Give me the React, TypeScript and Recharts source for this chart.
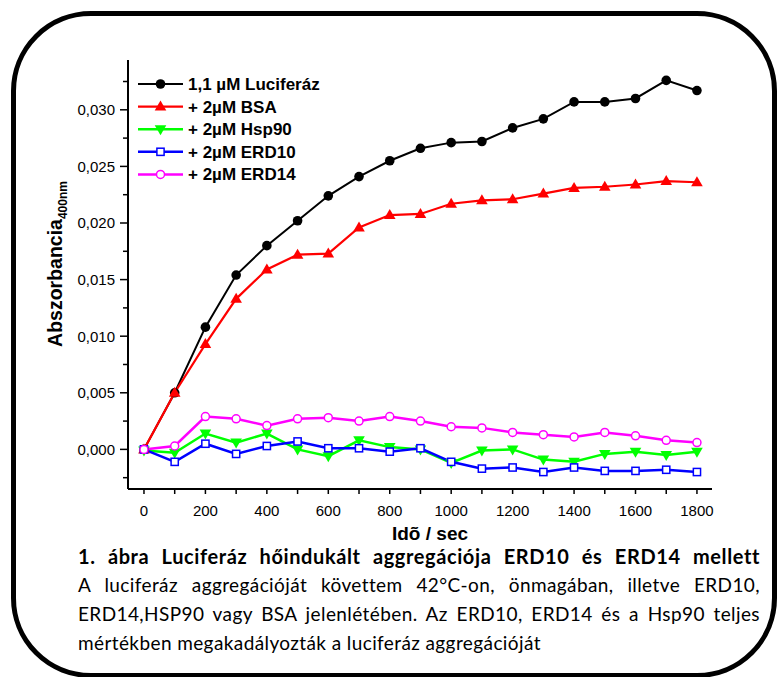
import React from 'react';
import { LineChart, Line, XAxis, YAxis, Legend } from 'recharts';

// time points (sec)
const times = [0, 100, 200, 300, 400, 500, 600, 700, 800, 900, 1000, 1100, 1200, 1300, 1400, 1500, 1600, 1700, 1800];

// absorbance at 400 nm
const luciferase = [0, 0.005, 0.0108, 0.0154, 0.018, 0.0202, 0.0224, 0.0241, 0.0255, 0.0266, 0.0271, 0.0272, 0.0284, 0.0292, 0.0307, 0.0307, 0.031, 0.0326, 0.0317];
const bsa = [0, 0.005, 0.0093, 0.0133, 0.0159, 0.0172, 0.0173, 0.0196, 0.0207, 0.0208, 0.0217, 0.022, 0.0221, 0.0226, 0.0231, 0.0232, 0.0234, 0.0237, 0.0236];
const hsp90 = [-0.0001, -0.0003, 0.0014, 0.0006, 0.0014, 0.0, -0.0006, 0.0008, 0.0002, 0.0, -0.0012, -0.0001, 0.0, -0.0009, -0.0011, -0.0004, -0.0002, -0.0005, -0.0002];
const erd10 = [0, -0.0011, 0.0005, -0.0004, 0.0003, 0.0007, 0.0001, 0.0001, -0.0002, 0.0001, -0.0011, -0.0017, -0.0016, -0.002, -0.0016, -0.0019, -0.0019, -0.0018, -0.002];
const erd14 = [0, 0.0003, 0.0029, 0.0027, 0.0021, 0.0027, 0.0028, 0.0025, 0.0029, 0.0025, 0.002, 0.0019, 0.0015, 0.0013, 0.0011, 0.0015, 0.0012, 0.0008, 0.0006];

const seriesNames = ['1,1 µM Luciferáz', '+ 2µM BSA', '+ 2µM Hsp90', '+ 2µM ERD10', '+ 2µM ERD14'];

const xTicks = [0, 100, 200, 300, 400, 500, 600, 700, 800, 900, 1000, 1100, 1200, 1300, 1400, 1500, 1600, 1700, 1800];
const yTicks = [-0.0025, 0, 0.0025, 0.005, 0.0075, 0.01, 0.0125, 0.015, 0.0175, 0.02, 0.0225, 0.025, 0.0275, 0.03, 0.0325];

const captionTitle = '1. ábra  Luciferáz hőindukált aggregációja ERD10 és ERD14 mellett';
const captionLines = [
  'A luciferáz aggregációját követtem 42°C-on, önmagában, illetve ERD10,',
  'ERD14,HSP90 vagy BSA jelenlétében. Az ERD10, ERD14 és a Hsp90 teljes',
  'mértékben megakadályozták a luciferáz aggregációját',
];

const series = [
  { key: 'luc', color: '#000000', shape: 'circle', width: 2 },
  { key: 'bsa', color: '#ff0000', shape: 'up', width: 2.2 },
  { key: 'hsp', color: '#00ff00', shape: 'down', width: 2.5 },
  { key: 'erd10', color: '#0000ff', shape: 'square', width: 2.5 },
  { key: 'erd14', color: '#ff00ff', shape: 'ring', width: 2.5 },
];

const data = times.map((t, i) => ({
  t,
  luc: luciferase[i],
  bsa: bsa[i],
  hsp: hsp90[i],
  erd10: erd10[i],
  erd14: erd14[i],
}));

const FONT = '"Liberation Sans", Arial, sans-serif';

const Marker = ({ cx, cy, shape, color }) => {
  if (cx == null || cy == null) return null;
  switch (shape) {
    case 'circle':
      return <circle cx={cx} cy={cy} r={4.8} fill={color} />;
    case 'up':
      return <polygon points={`${cx},${cy - 6} ${cx - 5.8},${cy + 4} ${cx + 5.8},${cy + 4}`} fill={color} />;
    case 'down':
      return <polygon points={`${cx},${cy + 6} ${cx - 5.8},${cy - 4} ${cx + 5.8},${cy - 4}`} fill={color} />;
    case 'square':
      return <rect x={cx - 3.6} y={cy - 3.6} width={7.2} height={7.2} fill="#fff" stroke={color} strokeWidth={1.5} />;
    default:
      return <circle cx={cx} cy={cy} r={4} fill="#fff" stroke={color} strokeWidth={1.5} />;
  }
};

const makeDot = (shape, color) => (p) => (
  <Marker key={`${shape}-${p.index}`} cx={p.cx} cy={p.cy} shape={shape} color={color} />
);

const isMajorX = (v) => v % 200 === 0;
const isMajorY = (v) => Math.round(v * 10000) % 50 === 0;

const BottomTick = ({ x, y, payload }) => (
  <g>
    <line x1={x} y1={y} x2={x} y2={y + 5} stroke="#000" strokeWidth={1.5} />
    {isMajorX(payload.value) && (
      <text x={x} y={y + 27} textAnchor="middle" fontSize={15} fontFamily={FONT} fill="#000">
        {payload.value}
      </text>
    )}
  </g>
);

const TopTick = ({ x, y }) => <line x1={x} y1={y} x2={x} y2={y + 8} stroke="#000" strokeWidth={1.5} />;

const LeftTick = ({ x, y, payload }) => {
  const major = isMajorY(payload.value);
  return (
    <g>
      <line x1={x} y1={y} x2={x - (major ? 8 : 5)} y2={y} stroke="#000" strokeWidth={1.5} />
      {major && (
        <text x={x - 13} y={y + 5.5} textAnchor="end" fontSize={15} fontFamily={FONT} fill="#000">
          {payload.value.toFixed(3).replace('.', ',')}
        </text>
      )}
    </g>
  );
};

const RightTick = ({ x, y }) => <line x1={x} y1={y} x2={x - 6} y2={y} stroke="#000" strokeWidth={1.5} />;

const XTitle = () => (
  <text x={430} y={540} textAnchor="middle" fontSize={19} fontWeight="bold" fontFamily={FONT} fill="#000">
    Idõ / sec
  </text>
);

const YTitle = () => (
  <text
    transform="translate(62,264) rotate(-90)"
    textAnchor="middle"
    fontWeight="bold"
    fontFamily={FONT}
    fill="#000"
  >
    <tspan fontSize={19.5}>Abszorbancia</tspan>
    <tspan fontSize={12} dy={5}>400nm</tspan>
  </text>
);

const renderLegend = () => (
  <svg width={240} height={112}>
    {series.map((s, i) => {
      const cy = 11 + i * 22.6;
      return (
        <g key={s.key}>
          <line x1={3} y1={cy} x2={48} y2={cy} stroke={s.color} strokeWidth={s.width} />
          <Marker cx={25.5} cy={cy} shape={s.shape} color={s.color} />
          <text x={53} y={cy + 6} fontSize={17} fontWeight="bold" fontFamily={FONT} fill="#000">
            {seriesNames[i]}
          </text>
        </g>
      );
    })}
  </svg>
);

export default function App() {
  const axisLine = { stroke: '#000', strokeWidth: 2 };
  return (
    <div style={{ position: 'absolute', left: 0, top: 0, width: 779, height: 677, background: '#fff', overflow: 'hidden' }}>
      <div
        style={{
          position: 'absolute',
          left: 11,
          top: 11,
          width: 756,
          height: 657,
          border: '5px solid #000',
          borderRadius: 80,
        }}
      />
      <div style={{ position: 'absolute', left: 0, top: 0 }}>
        <LineChart width={779} height={560} data={data} margin={{ top: 60, right: 67, left: 68, bottom: 31 }}>
          <XAxis
            xAxisId="b"
            dataKey="t"
            type="number"
            domain={[-52, 1849]}
            allowDataOverflow
            ticks={xTicks}
            interval={0}
            tickSize={0}
            tickMargin={0}
            tickLine={false}
            axisLine={axisLine}
            tick={<BottomTick />}
            height={40}
            label={<XTitle />}
          />
          <XAxis
            xAxisId="top"
            orientation="top"
            dataKey="t"
            type="number"
            domain={[-52, 1849]}
            allowDataOverflow
            ticks={xTicks}
            interval={0}
            tickSize={0}
            tickMargin={0}
            tickLine={false}
            axisLine={axisLine}
            tick={<TopTick />}
            height={0}
          />
          <YAxis
            yAxisId="l"
            type="number"
            domain={[-0.0035, 0.0344]}
            allowDataOverflow
            ticks={yTicks}
            interval={0}
            tickSize={0}
            tickMargin={0}
            tickLine={false}
            axisLine={axisLine}
            tick={<LeftTick />}
            width={60}
            label={<YTitle />}
          />
          <YAxis
            yAxisId="r"
            orientation="right"
            type="number"
            domain={[-0.0035, 0.0344]}
            allowDataOverflow
            ticks={yTicks}
            interval={0}
            tickSize={0}
            tickMargin={0}
            tickLine={false}
            axisLine={axisLine}
            tick={<RightTick />}
            width={0}
          />
          <Legend
            layout="vertical"
            align="center"
            verticalAlign="middle"
            wrapperStyle={{ left: 135, top: 73, width: 240, height: 112 }}
            content={renderLegend}
          />
          {series.map((s) => (
            <Line
              key={s.key}
              xAxisId="b"
              yAxisId="l"
              dataKey={s.key}
              stroke={s.color}
              strokeWidth={s.width}
              dot={makeDot(s.shape, s.color)}
              activeDot={false}
              isAnimationActive={false}
            />
          ))}
        </LineChart>
      </div>
      <div
        style={{
          position: 'absolute',
          left: 78,
          top: 542,
          width: 682,
          fontFamily: 'Lato, "Open Sans", sans-serif',
          fontSize: 19,
          letterSpacing: 0.4,
          color: '#000',
        }}
      >
        <div
          style={{
            fontWeight: 'bold',
            fontSize: 20,
            letterSpacing: 0.6,
            height: 28,
            lineHeight: '28px',
            textAlign: 'justify',
            textAlignLast: 'justify',
            whiteSpace: 'nowrap',
          }}
        >
          {captionTitle}
        </div>
        {captionLines.map((line, i) => (
          <div
            key={i}
            style={{
              height: 29,
              lineHeight: '29px',
              textAlign: 'justify',
              textAlignLast: i < captionLines.length - 1 ? 'justify' : 'left',
              whiteSpace: 'nowrap',
            }}
          >
            {line}
          </div>
        ))}
      </div>
    </div>
  );
}
